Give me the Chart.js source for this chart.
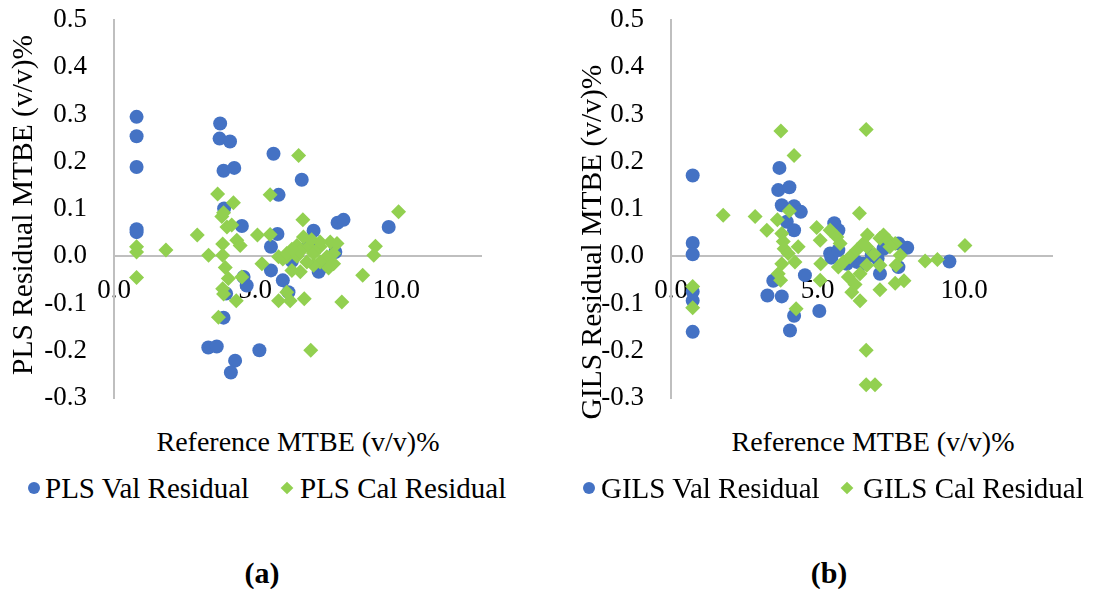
<!DOCTYPE html>
<html>
<head>
<meta charset="utf-8">
<script src="https://cdn.jsdelivr.net/npm/chart.js@4"></script>
<style>
  html, body { margin: 0; padding: 0; background: #fff; }
  #page { position: relative; width: 1093px; height: 589px; overflow: hidden; background: #fff;
          font-family: "Liberation Serif", "Noto Serif", "FreeSerif", "Tinos", "Times", "DejaVu Serif", "Bitstream Vera Serif", serif; color: #000; }
  canvas { position: absolute; top: 0; }
  .txt { position: absolute; white-space: nowrap; line-height: 1; transform: translate(-50%, -50%); }
  .ytitle { transform: translate(-50%, -50%) rotate(-90deg); font-size: 29.5px; }
  .xtitle { font-size: 28px; }
  .leg { position: absolute; white-space: nowrap; line-height: 1; font-size: 29px; transform: translateY(-50%); }
  .dot { position: absolute; width: 12px; height: 12px; border-radius: 50%; background: #4472c4; transform: translate(-50%, -50%); }
  .dia { position: absolute; width: 9px; height: 9px; background: #92d050; transform: translate(-50%, -50%) rotate(45deg); }
  .panel { font-size: 30px; font-weight: bold; }
</style>
</head>
<body>
<div id="page">
  <canvas id="plsChart" width="546" height="420" style="left:0px"></canvas>
  <canvas id="gilsChart" width="547" height="420" style="left:546px"></canvas>

  <div class="txt ytitle" style="left:23px; top:205px;">PLS Residual MTBE (v/v)%</div>
  <div class="txt ytitle" style="left:592px; top:242px;">GILS Residual MTBE (v/v)%</div>

  <div class="txt xtitle" style="left:298px; top:442px;">Reference MTBE (v/v)%</div>
  <div class="txt xtitle" style="left:873px; top:442px;">Reference MTBE (v/v)%</div>

  <div class="dot" style="left:34px; top:488px;"></div>
  <div class="leg" style="left:45px; top:488px;">PLS Val Residual</div>
  <div class="dia" style="left:287px; top:488px;"></div>
  <div class="leg" style="left:300px; top:488px;">PLS Cal Residual</div>

  <div class="dot" style="left:589px; top:488px;"></div>
  <div class="leg" style="left:601px; top:488px;">GILS Val Residual</div>
  <div class="dia" style="left:847px; top:488px;"></div>
  <div class="leg" style="left:863px; top:488px;">GILS Cal Residual</div>

  <div class="txt panel" style="left:262px; top:573px;">(a)</div>
  <div class="txt panel" style="left:829px; top:573px;">(b)</div>
</div>

<script>
// Axis tick values
const xTicks = [0, 5, 10];
const yTicks = [-0.3, -0.2, -0.1, 0.0, 0.1, 0.2, 0.3, 0.4, 0.5];

// PLS validation residuals (reference MTBE, residual)
const plsValX = [0.80, 0.80, 0.80, 0.80, 0.80, 3.76, 3.74, 4.11, 3.88, 4.26,
                 5.65, 6.65, 5.83, 3.90, 4.53, 5.79, 5.56, 7.07, 7.92, 8.13,
                 9.73, 5.56, 5.98, 7.25, 7.84, 4.59, 4.70, 3.97, 6.18, 3.88,
                 3.34, 3.64, 5.15, 4.29, 4.14, 6.30, 6.90, 7.50];
const plsValY = [0.295, 0.254, 0.189, 0.057, 0.051, 0.281, 0.249, 0.243, 0.181, 0.187,
                 0.217, 0.162, 0.130, 0.101, 0.064, 0.047, 0.020, 0.054, 0.071, 0.077,
                 0.062, -0.030, -0.051, -0.033, 0.009, -0.044, -0.062, -0.079, -0.076, -0.130,
                 -0.193, -0.191, -0.199, -0.221, -0.246, -0.010, 0.030, -0.020];

// PLS calibration residuals
const plsCalX = [0.80, 0.80, 0.80, 1.84, 2.95, 3.35, 3.67, 4.23, 3.82, 3.88,
                 4.00, 4.17, 4.35, 4.47, 3.85, 3.85, 3.94, 4.05, 4.53, 3.85,
                 3.88, 4.33, 3.70, 5.08, 5.53, 5.53, 6.54, 5.24, 5.83, 5.98,
                 6.12, 6.30, 6.60, 6.48, 6.71, 6.69, 6.89, 7.07, 7.30, 7.66,
                 7.90, 7.78, 7.54, 7.30, 7.78, 7.07, 6.83, 5.83, 6.24, 6.74,
                 6.12, 8.07, 6.97, 8.81, 9.26, 9.20, 10.08, 6.12, 6.48, 7.30,
                 6.60, 7.00, 6.30, 7.60];
const plsCalY = [0.020, 0.009, -0.045, 0.013, 0.045, 0.002, 0.132, 0.113, 0.084, 0.092,
                 0.062, 0.066, 0.034, 0.023, 0.026, 0.002, -0.024, -0.047, -0.044, -0.069,
                 -0.080, -0.094, -0.129, 0.045, 0.046, 0.130, 0.213, -0.016, -0.001, -0.006,
                 -0.001, -0.030, -0.033, 0.023, 0.041, 0.077, 0.020, 0.006, 0.020, 0.030,
                 0.027, 0.006, -0.001, -0.012, -0.016, -0.019, -0.012, -0.094, -0.094, -0.090,
                 -0.076, -0.097, -0.199, -0.040, 0.021, 0.002, 0.094, 0.006, 0.000, 0.030,
                 0.010, 0.035, 0.015, -0.025];

// GILS validation residuals
const gilsValX = [0.74, 0.74, 0.74, 0.74, 0.74, 0.74, 3.70, 3.66, 4.04, 3.78,
                  4.20, 4.43, 3.95, 4.20, 4.57, 3.49, 3.29, 3.78, 4.20, 4.06,
                  5.06, 5.57, 5.71, 5.43, 5.47, 5.71, 6.34, 6.56, 7.13, 6.85,
                  7.76, 8.06, 7.76, 9.50, 6.00, 7.25, 7.05];
const gilsValY = [0.171, 0.028, 0.004, -0.075, -0.094, -0.160, 0.187, 0.140, 0.146, 0.108,
                  0.106, 0.094, 0.073, 0.055, -0.040, -0.052, -0.083, -0.085, -0.126, -0.157,
                  -0.116, 0.070, 0.055, 0.006, -0.003, 0.013, -0.012, -0.016, -0.037, 0.002,
                  0.027, 0.018, -0.023, -0.011, -0.016, 0.016, -0.005];

// GILS calibration residuals
const gilsCalX = [3.75, 6.66, 4.20, 6.66, 6.66, 6.96, 1.78, 2.87, 3.27, 3.63,
                  4.04, 3.78, 3.83, 3.86, 4.00, 4.34, 4.23, 3.78, 3.66, 3.74,
                  0.74, 0.74, 4.27, 6.43, 4.97, 5.09, 5.43, 5.66, 5.77, 5.11,
                  5.09, 5.71, 5.88, 6.11, 6.34, 6.56, 6.70, 6.05, 6.28, 6.17,
                  6.45, 6.68, 6.45, 7.13, 7.25, 7.42, 7.65, 7.47, 7.13, 7.68,
                  7.13, 7.65, 7.95, 8.67, 9.09, 6.93, 7.82, 6.68, 10.03];
const gilsCalY = [0.265, 0.268, 0.213, -0.199, -0.272, -0.272, 0.087, 0.084, 0.055, 0.077,
                  0.096, 0.048, 0.031, 0.016, 0.006, 0.020, -0.012, -0.016, -0.037, -0.051,
                  -0.064, -0.109, -0.111, 0.091, 0.061, 0.034, 0.055, 0.041, 0.027, -0.016,
                  -0.051, -0.023, -0.012, -0.001, 0.013, 0.027, 0.045, -0.044, -0.060, -0.076,
                  -0.094, -0.019, -0.037, 0.038, 0.045, 0.034, 0.027, 0.020, -0.019, -0.019,
                  -0.071, -0.057, -0.052, -0.010, -0.007, 0.004, 0.002, 0.020, 0.023];

const valColor = '#4472c4';
const calColor = '#92d050';
const axisColor = '#bfbfbf';
const tickFont = { family: '"Liberation Serif", "Noto Serif", "FreeSerif", "Tinos", "Times", "DejaVu Serif", "Bitstream Vera Serif", serif', size: 27 };

function pairs(xs, ys) {
  return xs.map((x, i) => ({ x: x, y: ys[i] }));
}

function residualChart(canvasId, valLabel, valX, valY, calLabel, calX, calY, yAxisWidth, padRight) {
  return new Chart(document.getElementById(canvasId), {
    type: 'scatter',
    data: {
      datasets: [
        { label: valLabel, data: pairs(valX, valY), order: 2,
          pointStyle: 'circle', pointRadius: 7, pointHoverRadius: 7,
          backgroundColor: valColor, borderColor: valColor, borderWidth: 0 },
        { label: calLabel, data: pairs(calX, calY), order: 1,
          pointStyle: 'rectRot', pointRadius: 7.5, pointHoverRadius: 7.5,
          backgroundColor: calColor, borderColor: calColor, borderWidth: 0 }
      ]
    },
    options: {
      responsive: false,
      animation: false,
      layout: { padding: { left: 0, right: padRight, top: 20, bottom: 22 } },
      plugins: { legend: { display: false }, tooltip: { enabled: false } },
      scales: {
        x: {
          type: 'linear', min: 0, max: 13, position: { y: 0 },
          // tick marks stay hidden; tickLength only spaces the labels from the axis
          grid: { display: false, drawTicks: true, tickLength: 18 },
          border: { display: true, color: axisColor, width: 2 },
          ticks: { font: tickFont, color: '#000', padding: 0, callback: v => v.toFixed(1) },
          afterBuildTicks: s => { s.ticks = xTicks.map(v => ({ value: v })); }
        },
        y: {
          type: 'linear', min: -0.3, max: 0.5, position: 'left',
          grid: { display: false, drawTicks: true, tickLength: 27 },
          border: { display: true, color: axisColor, width: 2 },
          ticks: { font: tickFont, color: '#000', padding: 0, callback: v => v.toFixed(1) },
          afterBuildTicks: s => { s.ticks = yTicks.map(v => ({ value: v })); },
          afterFit: s => { s.width = yAxisWidth; }
        }
      }
    }
  });
}

residualChart('plsChart', 'PLS Val Residual', plsValX, plsValY,
              'PLS Cal Residual', plsCalX, plsCalY, 114, 65);
residualChart('gilsChart', 'GILS Val Residual', gilsValX, gilsValY,
              'GILS Cal Residual', gilsCalX, gilsCalY, 125, 41);
</script>
</body>
</html>
